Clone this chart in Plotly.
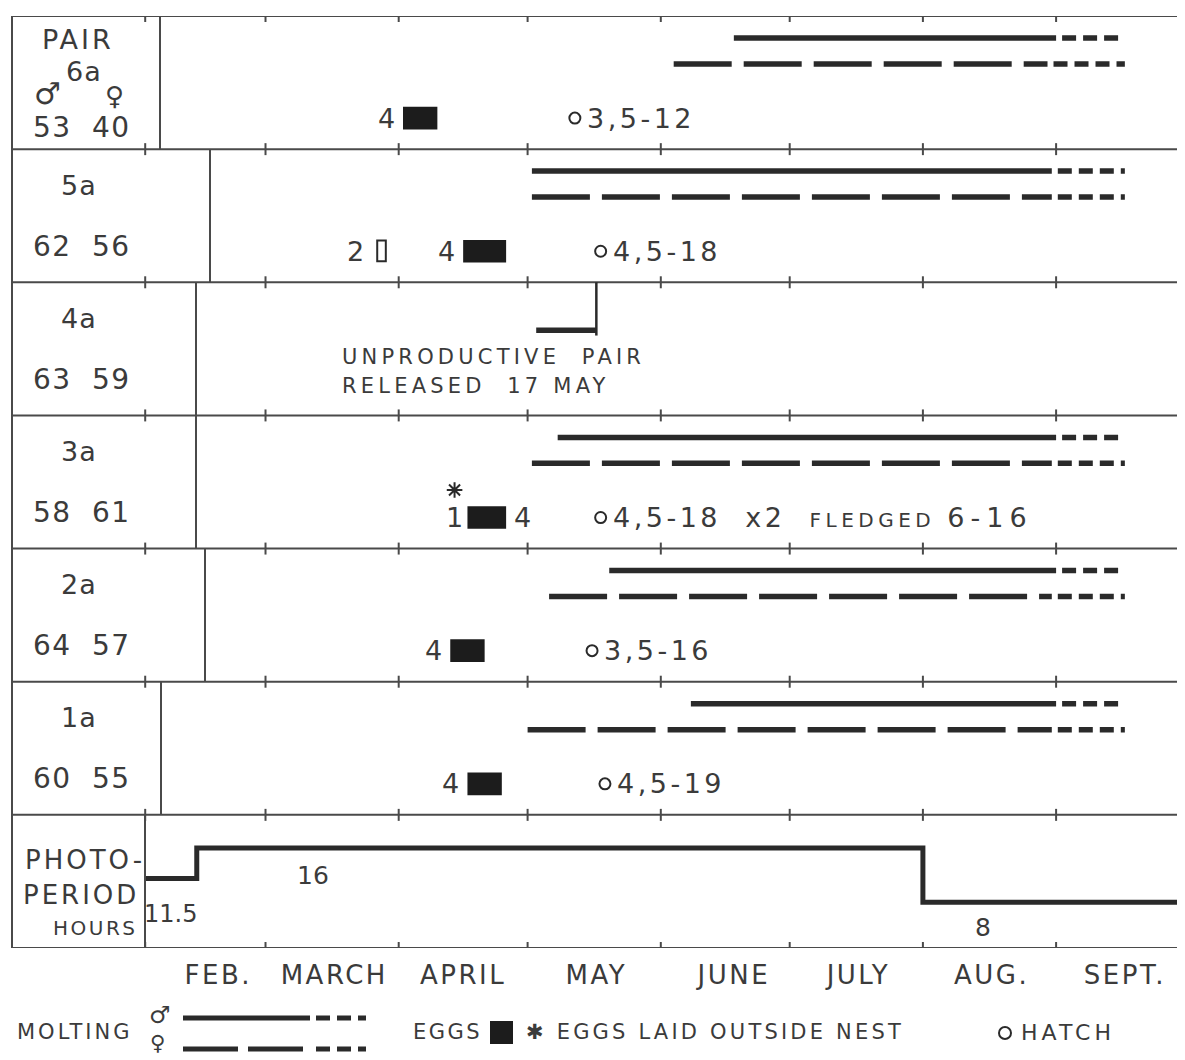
import datetime as dt
import plotly.graph_objects as go

# ---------------- data ----------------
pairs = ["6a", "5a", "4a", "3a", "2a", "1a"]
male_weight = [53, 62, 63, 58, 64, 60]
female_weight = [40, 56, 59, 61, 57, 55]

male_molt_start = ["2023-06-18", "2023-05-02", None, "2023-05-08", "2023-05-20", "2023-06-08"]
male_molt_end = ["2023-09-01", "2023-08-31", None, "2023-09-01", "2023-09-01", "2023-09-01"]
female_molt_start = ["2023-06-04", "2023-05-02", "2023-05-03", "2023-05-02", "2023-05-06", "2023-05-01"]
female_molt_end = ["2023-08-30", "2023-08-31", "2023-05-17", "2023-08-31", "2023-08-31", "2023-08-31"]
molt_tail_end = ["2023-09-17", "2023-09-17", None, "2023-09-17", "2023-09-17", "2023-09-17"]
release_date = [None, None, "2023-05-17", None, None, None]

egg_count = [4, 4, None, 4, 4, 4]
egg_start = ["2023-04-02", "2023-04-16", None, "2023-04-17", "2023-04-13", "2023-04-17"]
egg_end = ["2023-04-10", "2023-04-26", None, "2023-04-26", "2023-04-21", "2023-04-25"]
open_egg_count = [None, 2, None, None, None, None]
open_egg_date = [None, "2023-03-28", None, None, None, None]
outside_egg_count = [None, None, None, 1, None, None]
outside_egg_date = [None, None, None, "2023-04-14", None, None]

hatch_count = [3, 4, None, 4, 3, 4]
hatch_date = ["2023-05-12", "2023-05-18", None, "2023-05-18", "2023-05-16", "2023-05-19"]
fledged_count = [None, None, None, 2, None, None]
fledged_date = [None, None, None, "2023-06-16", None, None]

photo_dates = ["2023-02-01", "2023-02-13", "2023-08-01", "2023-10-01"]
photo_hours = [11.5, 16, 8, 8]

month_starts = ["2023-02-01", "2023-03-01", "2023-04-01", "2023-05-01",
                "2023-06-01", "2023-07-01", "2023-08-01", "2023-09-01"]
month_label_dates = ["2023-02-18", "2023-03-17", "2023-04-16", "2023-05-17",
                     "2023-06-18", "2023-07-17", "2023-08-17", "2023-09-17"]
month_labels = ["FEB.", "MARCH", "APRIL", "MAY", "JUNE", "JULY", "AUG.", "SEPT."]

# ---------------- style / layout constants ----------------
FONT = "DejaVu Sans"
TXT = "#3b3b3b"
INK = "#2a2a2a"
FRAME = "#4a4a4a"
PAGE = 8                      # default page body margin
W, H = 1177, 1052
ML, MR, MT, MB = 4, 0, 8, 112
PW = W - ML - MR
PH = H - MT - MB
NP = 7
BIG = 27
MALE_DY, FEMALE_DY, EGG_DY, STAR_DY = 0.835, 0.64, 0.233, 0.44
SOLID_FEMALE = "58px,12px"
TAIL = "0px,6px,14px,1px"
box_edge_px = [160, 210, 196, 196, 205, 161, 145]


def ppx(px):
    return (px - PAGE - ML) / PW


def ppy(py):
    return (PAGE + MT + PH - py) / PH


def span(s, ls):
    return f"<span style='letter-spacing:{ls}px'>{s}</span>"


fig = go.Figure()


def txt(x, y, s, size=BIG, xref="x", yref="y", xanchor="center", ls=3, xshift=0, yshift=0):
    fig.add_annotation(x=x, y=y, xref=xref, yref=yref, text=span(s, ls), showarrow=False,
                       font=dict(family=FONT, size=size, color=TXT),
                       xanchor=xanchor, yanchor="middle", xshift=xshift, yshift=yshift)


def line_trace(x0, x1, y, dash="solid", width=5.5, yaxis="y"):
    fig.add_trace(go.Scatter(x=[x0, x1], y=[y, y], mode="lines", yaxis=yaxis,
                             line=dict(color=INK, width=width, dash=dash),
                             hoverinfo="skip", showlegend=False))


shapes = []
for yb in range(NP + 1):
    shapes.append(dict(type="line", xref="paper", yref="y", x0=0, x1=1, y0=yb, y1=yb,
                       line=dict(color=FRAME, width=2)))
shapes.append(dict(type="line", xref="paper", yref="y", x0=0, x1=0, y0=0, y1=NP,
                   line=dict(color=FRAME, width=2)))
for i, px in enumerate(box_edge_px):
    top = NP - i
    shapes.append(dict(type="line", xref="paper", yref="y", x0=ppx(px), x1=ppx(px),
                       y0=top - 1, y1=top, line=dict(color=FRAME, width=2)))
for yb in range(NP + 1):
    for m in month_starts:
        y0 = yb - 0.045 if yb > 0 else yb
        y1 = yb + 0.045 if yb < NP else yb
        shapes.append(dict(type="line", xref="x", yref="y", x0=m, x1=m, y0=y0, y1=y1,
                           line=dict(color=FRAME, width=2)))

# ---------------- pair panels ----------------
for i, name in enumerate(pairs):
    k = NP - 1 - i
    ym, yf, ye = k + MALE_DY, k + FEMALE_DY, k + EGG_DY
    if male_molt_start[i]:
        line_trace(male_molt_start[i], male_molt_end[i], ym)
        line_trace(male_molt_end[i], molt_tail_end[i], ym, dash=TAIL)
    if female_molt_start[i]:
        if release_date[i]:
            line_trace(female_molt_start[i], female_molt_end[i], yf)
        else:
            line_trace(female_molt_start[i], female_molt_end[i], yf, dash=SOLID_FEMALE)
            line_trace(female_molt_end[i], molt_tail_end[i], yf, dash=TAIL)
    if release_date[i]:
        shapes.append(dict(type="line", xref="x", yref="y", x0=release_date[i], x1=release_date[i],
                           y0=k + 0.6, y1=k + 1, line=dict(color=INK, width=2.5)))
        d = dt.date.fromisoformat(release_date[i])
        txt(ppx(340), k + 0.44, "UNPRODUCTIVE&nbsp; PAIR", size=21, xref="paper",
            xanchor="left", ls=4.2)
        txt(ppx(340), k + 0.22, f"RELEASED&nbsp; {d.day} {d.strftime('%B').upper()}", size=21,
            xref="paper", xanchor="left", ls=4.2)
    if egg_count[i]:
        shapes.append(dict(type="rect", xref="x", yref="y", x0=egg_start[i], x1=egg_end[i],
                           y0=ye - 0.085, y1=ye + 0.085, fillcolor="#1c1c1c", line=dict(width=0)))
        if outside_egg_count[i]:
            txt(egg_end[i], ye, str(egg_count[i]), xanchor="left", xshift=6, ls=0)
        else:
            txt(egg_start[i], ye, str(egg_count[i]), xanchor="right", xshift=-6, ls=0)
    if open_egg_count[i]:
        d = dt.date.fromisoformat(open_egg_date[i])
        shapes.append(dict(type="rect", xref="x", yref="y",
                           x0=str(d - dt.timedelta(days=1.6)), x1=str(d + dt.timedelta(days=1.6)),
                           y0=ye - 0.075, y1=ye + 0.08, line=dict(color=INK, width=2)))
        txt(open_egg_date[i], ye, str(open_egg_count[i]), xanchor="right", xshift=-16, ls=0)
    if outside_egg_count[i]:
        txt(outside_egg_date[i], ye, str(outside_egg_count[i]), ls=0)
        fig.add_trace(go.Scatter(x=[outside_egg_date[i]], y=[k + STAR_DY], mode="markers",
                                 marker=dict(symbol="asterisk-open", size=13, color=INK,
                                             line=dict(color=INK, width=2)),
                                 hoverinfo="skip", showlegend=False))
    if hatch_count[i]:
        d = dt.date.fromisoformat(hatch_date[i])
        label = f"{hatch_count[i]},{d.month}-{d.day}"
        if fledged_count[i]:
            f = dt.date.fromisoformat(fledged_date[i])
            label += (f"&nbsp; x{fledged_count[i]}&nbsp; "
                      f"<span style='font-size:20px;letter-spacing:4.5px'>FLEDGED</span> "
                      f"<span style='letter-spacing:6px'>{f.month}-{f.day}</span>")
        fig.add_trace(go.Scatter(x=[hatch_date[i]], y=[ye], mode="markers",
                                 marker=dict(symbol="circle-open", size=11, color=INK,
                                             line=dict(color=INK, width=2)),
                                 hoverinfo="skip", showlegend=False))
        txt(hatch_date[i], ye, label, xanchor="left", xshift=10, ls=3.5)
    if i == 0:
        txt(ppx(78), k + 0.82, "PAIR", xref="paper", ls=3)
        txt(ppx(84), k + 0.58, name, xref="paper", ls=1)
        txt(ppx(47), k + 0.42, "♂", size=30, xref="paper", ls=0)
        txt(ppx(114), k + 0.40, "♀", size=26, xref="paper", ls=0)
        txt(ppx(52), k + 0.16, str(male_weight[i]), size=28, xref="paper", ls=1.5)
        txt(ppx(111), k + 0.16, str(female_weight[i]), size=28, xref="paper", ls=1.5)
    else:
        txt(ppx(79), k + 0.73, name, xref="paper", ls=1)
        txt(ppx(52), k + 0.27, str(male_weight[i]), size=28, xref="paper", ls=1.5)
        txt(ppx(111), k + 0.27, str(female_weight[i]), size=28, xref="paper", ls=1.5)

# ---------------- photoperiod panel ----------------
fig.add_trace(go.Scatter(x=photo_dates, y=photo_hours, mode="lines", yaxis="y2",
                         line=dict(color=INK, width=5, shape="hv"),
                         hoverinfo="skip", showlegend=False))
fig.add_annotation(x="2023-02-07", y=6.3, xref="x", yref="y2", text=f"{photo_hours[0]}",
                   showarrow=False, font=dict(family=FONT, size=24, color=TXT))
fig.add_annotation(x="2023-03-12", y=12.0, xref="x", yref="y2", text=f"{photo_hours[1]}",
                   showarrow=False, font=dict(family=FONT, size=25, color=TXT))
fig.add_annotation(x="2023-08-15", y=4.3, xref="x", yref="y2", text=f"{photo_hours[2]}",
                   showarrow=False, font=dict(family=FONT, size=25, color=TXT))
txt(ppx(147), ppy(860), "PHOTO-", size=26, xref="paper", yref="paper", xanchor="right", ls=3)
txt(ppx(141), ppy(895), "PERIOD", size=26, xref="paper", yref="paper", xanchor="right", ls=3)
txt(ppx(140), ppy(928), "HOURS", size=20, xref="paper", yref="paper", xanchor="right", ls=2.5)

# ---------------- key below the chart ----------------
txt(ppx(74), ppy(1032), "MOLTING", size=21, xref="paper", yref="paper", ls=3)
txt(ppx(160), ppy(1015), "♂", size=24, xref="paper", yref="paper", ls=0)
txt(ppx(157), ppy(1043), "♀", size=21, xref="paper", yref="paper", ls=0)
for py, main_dash in [(1018, "solid"), (1049, "55px,10px")]:
    shapes.append(dict(type="line", xref="paper", yref="paper", x0=ppx(183), x1=ppx(310),
                       y0=ppy(py), y1=ppy(py), line=dict(color=INK, width=5, dash=main_dash)))
    shapes.append(dict(type="line", xref="paper", yref="paper", x0=ppx(310), x1=ppx(366),
                       y0=ppy(py), y1=ppy(py), line=dict(color=INK, width=5, dash=TAIL)))
txt(ppx(447), ppy(1032), "EGGS", size=21, xref="paper", yref="paper", ls=2.5)
shapes.append(dict(type="rect", xref="paper", yref="paper", x0=ppx(490), x1=ppx(513),
                   y0=ppy(1044), y1=ppy(1021), fillcolor="#1c1c1c", line=dict(width=0)))
txt(ppx(524), ppy(1032), "✱ EGGS LAID OUTSIDE NEST", size=21, xref="paper", yref="paper",
    xanchor="left", ls=3.2)
shapes.append(dict(type="circle", xref="paper", yref="paper", x0=ppx(999), x1=ppx(1011),
                   y0=ppy(1039), y1=ppy(1027), line=dict(color=INK, width=2)))
txt(ppx(1019), ppy(1032), "HATCH", size=22, xref="paper", yref="paper", xanchor="left", ls=4)

fig.update_layout(
    width=W, height=H, margin=dict(l=ML, r=MR, t=MT, b=MB),
    paper_bgcolor="white", plot_bgcolor="white", showlegend=False,
    shapes=shapes,
    xaxis=dict(type="date", range=["2023-01-01", "2023-10-01"], showgrid=False, zeroline=False,
               showline=False, ticks="", tickmode="array", tickvals=month_label_dates,
               ticktext=[span(t, 2.5) for t in month_labels],
               tickfont=dict(family=FONT, size=26, color=TXT), ticklabelstandoff=9),
    yaxis=dict(range=[0, NP], domain=[0, 1], visible=False, fixedrange=True),
    yaxis2=dict(range=[1.24, 20.9], domain=[0, 1 / NP], anchor="x", visible=False),
)

fig.write_html("out.html")
